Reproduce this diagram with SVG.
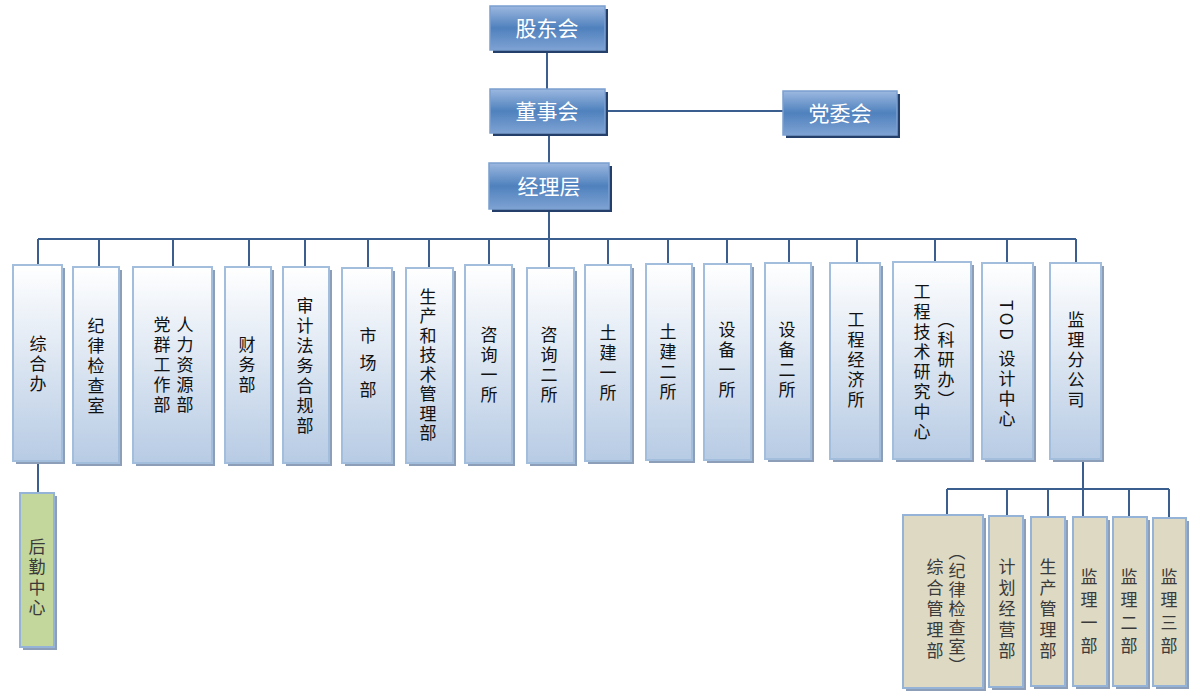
<svg xmlns="http://www.w3.org/2000/svg" width="1200" height="700" viewBox="0 0 1200 700">
<defs>
<linearGradient id="gTop" x1="0" y1="0" x2="0" y2="1">
<stop offset="0" stop-color="#9CB8E0"/>
<stop offset="0.5" stop-color="#4F81BD"/>
<stop offset="1" stop-color="#7EA2D3"/>
</linearGradient>
<linearGradient id="gDept" x1="0" y1="0" x2="0" y2="1">
<stop offset="0" stop-color="#FFFFFF"/>
<stop offset="1" stop-color="#B7CBE4"/>
</linearGradient>
<style>
.top{fill:url(#gTop);stroke:#7B9FD0;stroke-width:1.5}
.tsh{fill:#24406A}
.dept{fill:url(#gDept);stroke:#A3BDDD;stroke-width:2}
.dsh{fill:#8D9FB8}
.sub{fill:#DDD9C3;stroke:#95B3D7;stroke-width:2}
.grn{fill:#C3D69B;stroke:#95B3D7;stroke-width:2}
.tt{font-family:"Noto Sans CJK SC","Noto Sans",sans-serif;font-size:21px;fill:#FFFFFF;text-anchor:middle}
.v{font-family:"Noto Sans CJK SC","Noto Sans",sans-serif;font-size:17px;fill:#111111;writing-mode:vertical-rl;letter-spacing:3px}
.vs{fill:#3A3A3A}
.ln{fill:none;stroke:#3A5F8F;stroke-width:2}
</style>
</defs>
<rect width="1200" height="700" fill="#FFFFFF"/>

<g id="connectors" class="ln">
<path d="M547 50V89M549 133V163M605 111H783M549 209V239M38 239H1076"/>
<path d="M38 239V265M99 239V267M173 239V267M249 239V267M305 239V267M368 239V268M429 239V268M489 239V265M549 239V268M608 239V265M668 239V264M727 239V264M789 239V263M857 239V263M935 239V262M1007 239V263M1076 239V263"/>
<path d="M38 461V493"/>
<path d="M1083 459V517M947 489H1169M947 489V515M1007 489V516M1048 489V517M1129 489V517M1169 489V518"/>
</g>

<g id="gudonghui"><rect class="tsh" x="493" y="9" width="115" height="44"/><rect class="top" x="490" y="6" width="115" height="44"/><text class="tt" x="547" y="36">股东会</text></g>
<g id="dongshihui"><rect class="tsh" x="493" y="92" width="115" height="44"/><rect class="top" x="490" y="89" width="115" height="44"/><text class="tt" x="547" y="119">董事会</text></g>
<g id="jinglieceng"><rect class="tsh" x="492" y="166" width="120" height="46"/><rect class="top" x="489" y="163" width="120" height="46"/><text class="tt" x="549" y="194">经理层</text></g>
<g id="dangweihui"><rect class="tsh" x="786" y="94" width="114" height="44"/><rect class="top" x="783" y="91" width="114" height="44"/><text class="tt" x="840" y="121">党委会</text></g>

<g id="zongheban"><rect class="dsh" x="16" y="268" width="49" height="196"/><rect class="dept" x="13" y="265" width="49" height="196"/><text class="v" x="38" y="335">综合办</text></g>
<g id="jilv"><rect class="dsh" x="76" y="270" width="46" height="196"/><rect class="dept" x="73" y="267" width="46" height="196"/><text class="v" x="96" y="317">纪律检查室</text></g>
<g id="renli"><rect class="dsh" x="136" y="270" width="79" height="196"/><rect class="dept" x="133" y="267" width="79" height="196"/><text class="v" x="185" y="316">人力资源部</text><text class="v" x="162" y="316">党群工作部</text></g>
<g id="caiwu"><rect class="dsh" x="228" y="270" width="46" height="196"/><rect class="dept" x="225" y="267" width="46" height="196"/><text class="v" x="247" y="336">财务部</text></g>
<g id="shenji"><rect class="dsh" x="286" y="270" width="46" height="196"/><rect class="dept" x="283" y="267" width="46" height="196"/><text class="v" x="305" y="297">审计法务合规部</text></g>
<g id="shichang"><rect class="dsh" x="345" y="271" width="50" height="195"/><rect class="dept" x="342" y="268" width="50" height="195"/><text class="v" x="368" y="327">市 场 部</text></g>
<g id="shengchan"><rect class="dsh" x="409" y="271" width="47" height="195"/><rect class="dept" x="406" y="268" width="47" height="195"/><text class="v" x="428" y="288" style="letter-spacing:2.5px">生产和技术管理部</text></g>
<g id="zixun1"><rect class="dsh" x="468" y="268" width="47" height="198"/><rect class="dept" x="465" y="265" width="47" height="198"/><text class="v" x="489" y="326">咨询一所</text></g>
<g id="zixun2"><rect class="dsh" x="530" y="271" width="47" height="195"/><rect class="dept" x="527" y="268" width="47" height="195"/><text class="v" x="549" y="326">咨询二所</text></g>
<g id="tujian1"><rect class="dsh" x="588" y="268" width="46" height="196"/><rect class="dept" x="585" y="265" width="46" height="196"/><text class="v" x="608" y="324">土建一所</text></g>
<g id="tujian2"><rect class="dsh" x="649" y="267" width="46" height="196"/><rect class="dept" x="646" y="264" width="46" height="196"/><text class="v" x="668" y="323">土建二所</text></g>
<g id="shebei1"><rect class="dsh" x="707" y="267" width="47" height="196"/><rect class="dept" x="704" y="264" width="47" height="196"/><text class="v" x="727" y="321">设备一所</text></g>
<g id="shebei2"><rect class="dsh" x="768" y="266" width="46" height="196"/><rect class="dept" x="765" y="263" width="46" height="196"/><text class="v" x="787" y="321">设备二所</text></g>
<g id="jingji"><rect class="dsh" x="833" y="266" width="50" height="196"/><rect class="dept" x="830" y="263" width="50" height="196"/><text class="v" x="856" y="311">工程经济所</text></g>
<g id="gongcheng"><rect class="dsh" x="896" y="265" width="78" height="197"/><rect class="dept" x="893" y="262" width="78" height="197"/><text class="v" x="946" y="311">（科研办）</text><text class="v" x="922" y="283">工程技术研究中心</text></g>
<g id="tod"><rect class="dsh" x="985" y="266" width="51" height="196"/><rect class="dept" x="982" y="263" width="51" height="196"/><text class="v" x="1007" y="300">TOD 设计中心</text></g>
<g id="jianli"><rect class="dsh" x="1053" y="266" width="51" height="196"/><rect class="dept" x="1050" y="263" width="51" height="196"/><text class="v" x="1076" y="311">监理分公司</text></g>

<g id="houqin"><rect class="dsh" x="23" y="496" width="34" height="154"/><rect class="grn" x="20" y="493" width="34" height="154"/><text class="v vs" x="37" y="538" style="letter-spacing:3.5px">后勤中心</text></g>
<g id="zonghe"><rect class="dsh" x="906" y="518" width="80" height="173"/><rect class="sub" x="903" y="515" width="80" height="173"/><text class="v vs" x="957" y="543" style="letter-spacing:2px">（纪律检查室）</text><text class="v vs" x="935" y="558" style="letter-spacing:4px">综合管理部</text></g>
<g id="jihua"><rect class="dsh" x="992" y="519" width="34" height="171"/><rect class="sub" x="989" y="516" width="34" height="171"/><text class="v vs" x="1007" y="558" style="letter-spacing:4px">计划经营部</text></g>
<g id="shengchanguanli"><rect class="dsh" x="1034" y="520" width="34" height="169"/><rect class="sub" x="1031" y="517" width="34" height="169"/><text class="v vs" x="1048" y="558" style="letter-spacing:4px">生产管理部</text></g>
<g id="jianli1"><rect class="dsh" x="1076" y="520" width="34" height="169"/><rect class="sub" x="1073" y="517" width="34" height="169"/><text class="v vs" x="1089" y="568" style="letter-spacing:6px">监理一部</text></g>
<g id="jianli2"><rect class="dsh" x="1116" y="520" width="34" height="169"/><rect class="sub" x="1113" y="517" width="34" height="169"/><text class="v vs" x="1129" y="568" style="letter-spacing:6px">监理二部</text></g>
<g id="jianli3"><rect class="dsh" x="1156" y="521" width="33" height="168"/><rect class="sub" x="1153" y="518" width="33" height="168"/><text class="v vs" x="1169" y="568" style="letter-spacing:6px">监理三部</text></g>
</svg>
